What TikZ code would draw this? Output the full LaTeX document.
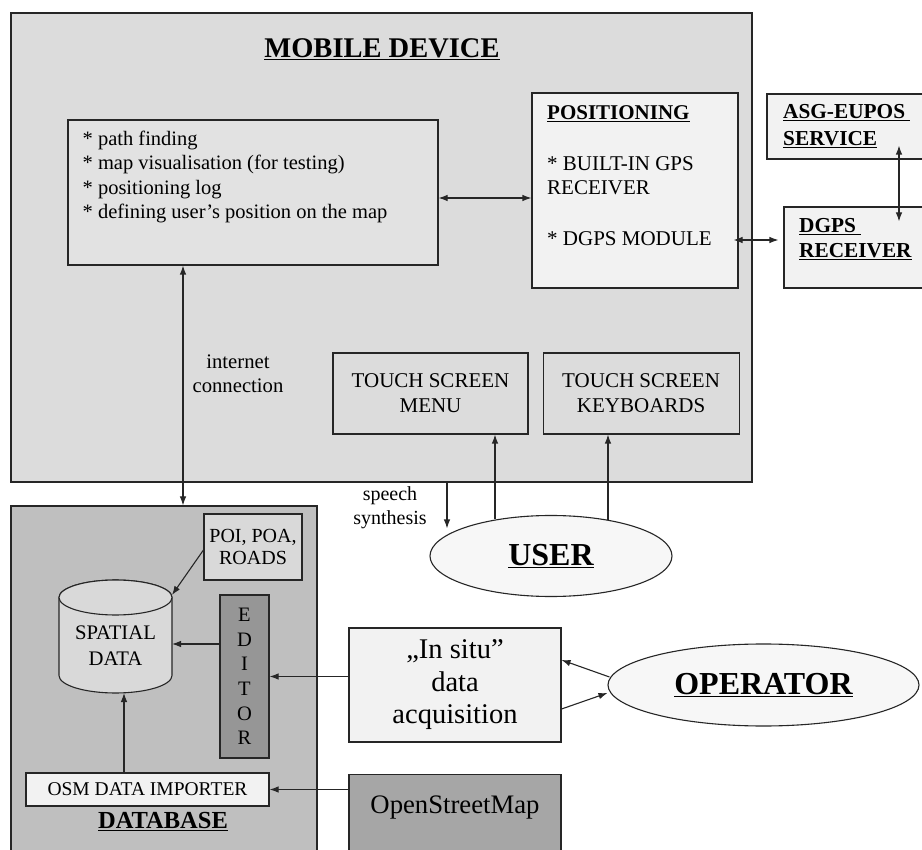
\documentclass[tikz,border=0pt]{standalone}
\usepackage{fontspec}
\setmainfont{Liberation Serif}
\usetikzlibrary{positioning,arrows.meta,shapes.geometric}
\definecolor{devicegray}{HTML}{DCDCDC}
\definecolor{funcgray}{HTML}{E2E2E2}
\definecolor{palegray}{HTML}{F2F2F2}
\definecolor{dbgray}{HTML}{BFBFBF}
\definecolor{poigray}{HTML}{D9D9D9}
\definecolor{editorgray}{HTML}{969696}
\definecolor{osmgray}{HTML}{A6A6A6}
\definecolor{actorgray}{HTML}{F7F7F7}
\newcommand{\fsz}[2]{\fontsize{#1}{#2}\selectfont}
\tikzset{
  blk/.style={
    rectangle,
    draw=black!85,
    line width=1.1pt,
    inner sep=0pt,
    align=center
  },
  txt/.style={inner sep=0pt,align=center},
  actor/.style={
    ellipse,
    draw=black!85,
    line width=1.1pt,
    fill=actorgray,
    inner sep=0pt,
    font=\fsz{32}{36}\bfseries
  },
  link/.style={line width=1.1pt,draw=black!85}
}

\begin{document}
\begin{tikzpicture}[x=1pt,y=1pt,>={Latex[length=9pt,width=6.5pt]}]
\useasboundingbox[fill=white] (0,0) rectangle (922,-850);

\node[blk,fill=devicegray,minimum width=741pt,minimum height=469pt] (mobile) at (381.5,-247.5) {};
\node[txt,font=\fsz{28.5}{32}\bfseries] (mobiletitle) at (382,-49) {\underline{MOBILE DEVICE}};

\node[blk,fill=funcgray,minimum width=370pt,minimum height=145pt] (func) at (253,-192.5) {};
\node[txt,align=left,anchor=west,font=\fsz{20.5}{24.3}] (functxt) at ([shift={(15pt,15.5pt)}]func.west)
  {* path finding\\* map visualisation (for testing)\\* positioning log\\* defining user’s position on the map};

\node[blk,fill=palegray,minimum width=206pt,minimum height=195pt] (pos) at (635,-190.5) {};
\node[txt,align=left,anchor=west,font=\fsz{21}{24}] (postxt) at (547,-175.5)
  {\underline{\textbf{POSITIONING}}\\[27pt]* BUILT-IN GPS\\RECEIVER\\[27pt]* DGPS MODULE};

\node[blk,fill=palegray,minimum width=163pt,minimum height=65pt] (asg) at (848.5,-126.5) {};
\node[txt,align=left,anchor=west,font=\fsz{21.3}{27}\bfseries] (asgtxt) at (783,-126.5)
  {\underline{ASG-EUPOS\ }\\\underline{SERVICE}};
\node[blk,fill=palegray,minimum width=146pt,minimum height=81pt] (dgps) at (857,-247.5) {};
\node[txt,align=left,anchor=west,font=\fsz{21.3}{25}\bfseries] (dgpstxt) at (799,-239.5)
  {\underline{DGPS\ }\\\underline{RECEIVER}};

\node[blk,fill=devicegray,minimum width=195pt,minimum height=81pt,font=\fsz{21}{25}] (menu) at (430.5,-393.5)
  {TOUCH SCREEN\\MENU};
\node[blk,fill=devicegray,minimum width=196pt,minimum height=81pt,font=\fsz{21}{25},right=14pt of menu] (keys)
  {TOUCH SCREEN\\KEYBOARDS};
\node[txt,font=\fsz{20.7}{24}] (nettxt) at (238,-374) {internet\\connection};

\node[blk,fill=dbgray,minimum width=306pt,minimum height=364pt] (db) at (164,-688) {};
\node[blk,fill=poigray,minimum width=98pt,minimum height=66pt,font=\fsz{20}{22}] (poi) at (253,-547) {POI, POA,\\ROADS};

\coordinate (cyltop) at (115.5,-597.5);
\coordinate (cylbot) at (115.5,-675.5);
\coordinate (cylne) at (172,-595);
\coordinate (cylsouth) at (115.5,-693);
\filldraw[link,fill=poigray] ([xshift=-56.5pt]cyltop) -- ([xshift=-56.5pt]cylbot)
  arc[start angle=180,end angle=360,x radius=56.5pt,y radius=17.5pt] -- ([xshift=56.5pt]cyltop)
  arc[start angle=0,end angle=180,x radius=56.5pt,y radius=17.5pt] -- cycle;
\filldraw[link,fill=poigray] (cyltop) ellipse[x radius=56.5pt,y radius=17.5pt];
\node[txt,font=\fsz{20.7}{26}] (spatial) at (115.5,-646) {SPATIAL\\DATA};

\node[blk,fill=editorgray,minimum width=49pt,minimum height=163pt,font=\fsz{20.5}{24.6}] (editor) at (244.5,-676.5)
  {E\\D\\I\\T\\O\\R};
\node[blk,fill=palegray,minimum width=243pt,minimum height=33pt,font=\fsz{19.5}{22}] (importer) at (147.5,-789.5)
  {OSM DATA IMPORTER};
\node[txt,font=\fsz{24.5}{28}\bfseries] (dbtitle) at (163,-822) {\underline{DATABASE}};

\node[blk,fill=palegray,minimum width=212pt,minimum height=114pt,font=\fsz{28.5}{32.5}] (insitu) at (455,-685)
  {„In situ”\\data\\acquisition};
\node[blk,fill=osmgray,minimum width=212pt,minimum height=97pt,below=31pt of insitu] (osm) {};
\node[txt,font=\fsz{26.7}{30}] (osmtxt) at ([yshift=-34pt]osm.north) {OpenStreetMap};

\node[actor,minimum width=242pt,minimum height=81pt] (user) at (551,-556) {\underline{USER}};
\node[actor,minimum width=311pt,minimum height=82pt] (operator) at (763.5,-685) {\underline{OPERATOR}};
\node[txt,font=\fsz{20}{24}] (speechtxt) at (390,-508) {speech\\synthesis};

\draw[link,<->] ([yshift=-5.5pt]func.east) -- ([yshift=-5.5pt]func.east -| pos.west);
\draw[link,<->] ([shift={(-5pt,-49.5pt)}]pos.east) -- ([shift={(-5pt,-49.5pt)}]pos.east -| dgps.west);
\draw[link,<->] ([shift={(50.5pt,14pt)}]asg.south) -- ([shift={(42pt,-15pt)}]dgps.north);
\draw[link,<->] ([xshift=-70pt]func.south) -- ([xshift=-70pt]func.south |- db.north);
\draw[link,->] ([xshift=65.5pt]mobile.south) -- ([shift={(-104pt,-13.5pt)}]user.north);
\draw[link,->] ([shift={(-56pt,-4.5pt)}]user.north) -- ([xshift=-56pt]user.north |- menu.south);
\draw[link,->] ([shift={(57pt,-4.7pt)}]user.north) -- ([xshift=57pt]user.north |- keys.south);
\draw[link,->] ([yshift=-3pt]poi.west) -- (cylne);
\draw[link,->] ([yshift=32.5pt]editor.west) -- ([yshift=32.5pt]editor.west -| cylne);
\draw[link,->] (insitu.west |- editor.east) -- (editor.east);
\draw[link,->] ([xshift=-23.5pt]importer.north) -- ([xshift=-23.5pt]importer.north |- cylsouth);
\draw[link,->] (osm.west |- importer.east) -- (importer.east);
\draw[link,->] ([shift={(2pt,8pt)}]operator.west) -- ([yshift=25pt]insitu.east);
\draw[link,->] ([yshift=-24pt]insitu.east) -- ([yshift=-8pt]operator.west);
\end{tikzpicture}
\end{document}
